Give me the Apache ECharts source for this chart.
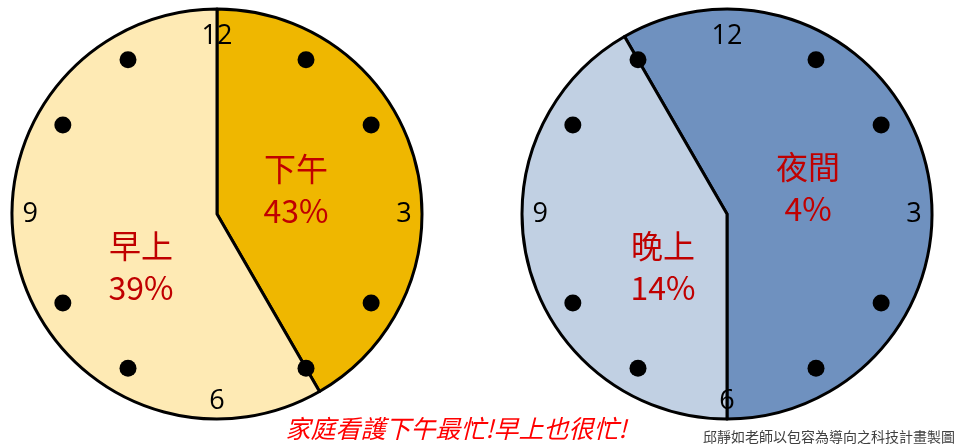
<!DOCTYPE html>
<html><head><meta charset="utf-8">
<script src="https://cdn.jsdelivr.net/npm/echarts@6/dist/echarts.min.js"></script>
<style>html,body{margin:0;padding:0;background:#fff}#c{width:959px;height:446px}</style>
</head><body><div id="c"></div>
<script>
// Hours covered by each period on a 12-hour clock face
const dayNames = ['下午', '早上'];
const dayHours = [5, 7];          // afternoon 12→5, morning 5→12
const dayShares = ['43%', '39%'];
const nightNames = ['夜間', '晚上'];
const nightHours = [7, 5];        // night 11→6, evening 6→11
const nightShares = ['4%', '14%'];
const nightStartHour = 11;
const dotHours = [1, 2, 4, 5, 7, 8, 10, 11];
const numberHours = [12, 3, 6, 9];
const numberLabels = ['12', '3', '6', '9'];
const title = '家庭看護下午最忙!早上也很忙!';
const credit = '邱靜如老師以包容為導向之科技計畫製圖';

const dayColors = ['#EFB700', '#FEEAB4'];
const nightColors = ['#6F91BF', '#C1D0E3'];
const FONT = '"Noto Sans CJK TC", "Noto Sans", sans-serif';
const NUMFONT = '"Open Sans", "Noto Sans", sans-serif';
const R = 205;
const centers = [[217, 214], [727, 214]];
const PR = 178; // radius of the hour dots

function pie(center, names, vals, colors, startAngle) {
  return {
    type: 'pie', center: center, radius: R, startAngle: startAngle, clockwise: true,
    silent: true, z: 1, label: { show: false }, labelLine: { show: false },
    itemStyle: { borderColor: '#000', borderWidth: 3 },
    emphasis: { disabled: true },
    data: names.map((n, i) => ({ name: n, value: vals[i], itemStyle: { color: colors[i] } }))
  };
}
function dots(idx) {
  return { type: 'scatter', coordinateSystem: 'polar', polarIndex: idx, z: 5, silent: true,
    symbol: 'circle', symbolSize: 17, itemStyle: { color: '#000', opacity: 1 },
    emphasis: { disabled: true },
    data: dotHours.map(h => [1, h]) };
}
function nums(idx) {
  return { type: 'scatter', coordinateSystem: 'polar', polarIndex: idx, z: 6, silent: true,
    symbolSize: 0.01, itemStyle: { color: '#000', opacity: 1 },
    emphasis: { disabled: true },
    labelLayout: { hideOverlap: false },
    label: { show: true, position: 'inside', formatter: p => p.data[2], color: '#000', opacity: 1,
      fontSize: 27, fontWeight: 500, fontFamily: NUMFONT, textBorderWidth: 0 },
    data: numberHours.map((h, i) => [h === 12 ? 1.0 : 1.05, h % 12, numberLabels[i]]) };
}
const polarAxis = (i) => ({
  angle: { polarIndex: i, type: 'value', min: 0, max: 12, startAngle: 90, clockwise: true,
    axisLine: { show: false }, axisTick: { show: false }, axisLabel: { show: false }, splitLine: { show: false } },
  radius: { polarIndex: i, type: 'value', min: 0, max: 1.2,
    axisLine: { show: false }, axisTick: { show: false }, axisLabel: { show: false }, splitLine: { show: false } }
});
const pa = [polarAxis(0), polarAxis(1)];

function label(x, y, name, share) {
  return { type: 'text', x: x, y: y, z: 10, silent: true,
    style: { text: name + '\n' + share, fill: '#C00000', font: '32px ' + FONT,
      textAlign: 'center', textVerticalAlign: 'middle', lineHeight: 42 } };
}

const chart = echarts.init(document.getElementById('c'), null, { renderer: 'canvas' });
chart.setOption({
  animation: false,
  backgroundColor: '#fff',
  polar: [{ center: centers[0], radius: PR * 1.2 }, { center: centers[1], radius: PR * 1.2 }],
  angleAxis: [pa[0].angle, pa[1].angle],
  radiusAxis: [pa[0].radius, pa[1].radius],
  series: [
    pie(centers[0], dayNames, dayHours, dayColors, 90),
    pie(centers[1], nightNames, nightHours, nightColors, 90 + (12 - nightStartHour) * 30),
    dots(0), dots(1), nums(0), nums(1)
  ],
  graphic: [
    label(296, 190, dayNames[0], dayShares[0]),
    label(141, 267, dayNames[1], dayShares[1]),
    label(808, 188, nightNames[0], nightShares[0]),
    label(663, 267, nightNames[1], nightShares[1]),
    { type: 'text', x: 456, y: 428, z: 10, silent: true,
      style: { text: title, fill: '#FF0000', font: 'italic 25px ' + FONT, textAlign: 'center', textVerticalAlign: 'middle' } },
    { type: 'text', x: 955, y: 437, z: 10, silent: true,
      style: { text: credit, fill: '#404040', font: '14px ' + FONT, textAlign: 'right', textVerticalAlign: 'middle' } }
  ]
});
</script></body></html>
